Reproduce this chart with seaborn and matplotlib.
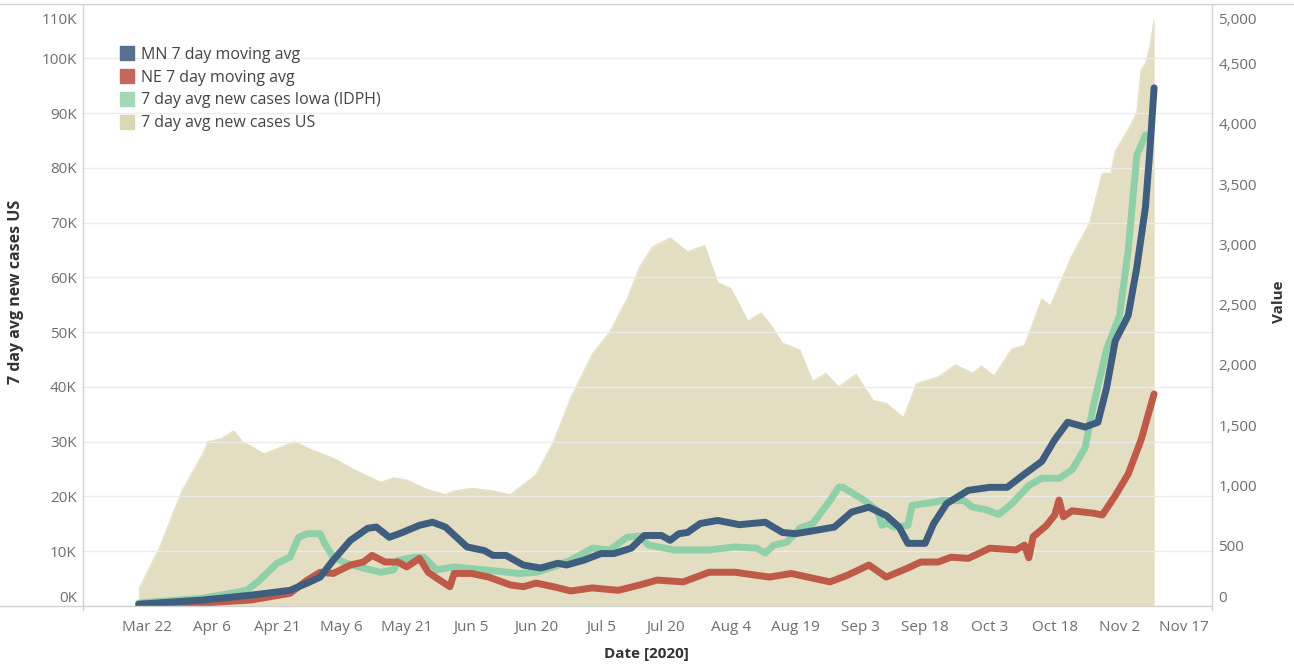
import numpy as np
import pandas as pd
import matplotlib
matplotlib.use("Agg")
import matplotlib.pyplot as plt
import matplotlib.dates as mdates
import matplotlib.transforms as mtransforms
from matplotlib.lines import Line2D
from matplotlib.ticker import FuncFormatter
import seaborn as sns

# ---------------- data ----------------
us_dates = ["2020-03-20", "2020-03-25", "2020-03-30", "2020-04-04", "2020-04-05", "2020-04-08",
            "2020-04-11", "2020-04-13", "2020-04-18", "2020-04-22", "2020-04-25", "2020-04-29",
            "2020-05-04", "2020-05-09", "2020-05-15", "2020-05-18", "2020-05-21", "2020-05-26",
            "2020-05-30", "2020-06-01", "2020-06-05", "2020-06-10", "2020-06-14", "2020-06-20",
            "2020-06-24", "2020-06-28", "2020-07-03", "2020-07-07", "2020-07-11", "2020-07-14",
            "2020-07-17", "2020-07-21", "2020-07-25", "2020-07-29", "2020-08-01", "2020-08-04",
            "2020-08-08", "2020-08-11", "2020-08-13", "2020-08-16", "2020-08-20", "2020-08-23",
            "2020-08-26", "2020-08-29", "2020-09-02", "2020-09-06", "2020-09-09", "2020-09-13",
            "2020-09-16", "2020-09-21", "2020-09-25", "2020-09-29", "2020-10-01", "2020-10-04",
            "2020-10-08", "2020-10-11", "2020-10-15", "2020-10-17", "2020-10-22", "2020-10-26",
            "2020-10-29", "2020-10-31", "2020-11-01", "2020-11-04", "2020-11-06", "2020-11-07",
            "2020-11-08", "2020-11-09", "2020-11-10"]
us_cases_k = [3, 11, 21, 28, 30, 30.5,
              32, 30, 27.8, 29, 30, 28.5,
              27, 24.8, 22.6, 23.4, 23, 21.2,
              20.3, 21, 21.5, 21, 20.3, 24,
              30, 38, 46, 50, 56, 62,
              65.6, 67.2, 64.7, 65.8, 59, 58,
              52, 53.5, 51.6, 48, 46.7, 41,
              42.5, 40, 42.3, 37.5, 37, 34.4,
              40.6, 41.8, 44, 42.5, 43.8, 42,
              46.9, 47.6, 56, 54.8, 64, 69.8,
              79, 79, 83, 87, 90, 98,
              99, 102, 107]

mn_dates = ["2020-03-20", "2020-04-04", "2020-04-15", "2020-04-24", "2020-04-28", "2020-05-01",
            "2020-05-04", "2020-05-08", "2020-05-12", "2020-05-14", "2020-05-17", "2020-05-20",
            "2020-05-24", "2020-05-27", "2020-05-30", "2020-06-04", "2020-06-08", "2020-06-10",
            "2020-06-13", "2020-06-17", "2020-06-21", "2020-06-25", "2020-06-27", "2020-07-01",
            "2020-07-05", "2020-07-08", "2020-07-12", "2020-07-15", "2020-07-19", "2020-07-21",
            "2020-07-23", "2020-07-25", "2020-07-28", "2020-08-01", "2020-08-06", "2020-08-12",
            "2020-08-16", "2020-08-19", "2020-08-24", "2020-08-28", "2020-09-01", "2020-09-05",
            "2020-09-09", "2020-09-12", "2020-09-14", "2020-09-18", "2020-09-20", "2020-09-23",
            "2020-09-28", "2020-10-03", "2020-10-07", "2020-10-11", "2020-10-15", "2020-10-18",
            "2020-10-21", "2020-10-25", "2020-10-28", "2020-10-30", "2020-11-01", "2020-11-04",
            "2020-11-06", "2020-11-08", "2020-11-09", "2020-11-10"]
mn_values = [15, 50, 90, 130, 190, 240,
             380, 545, 645, 655, 570, 610,
             670, 695, 655, 490, 460, 420,
             420, 340, 315, 355, 340, 380,
             435, 435, 480, 585, 585, 545,
             600, 610, 685, 710, 675, 695,
             610, 600, 630, 655, 780, 820,
             750, 655, 520, 520, 685, 850,
             960, 985, 985, 1095, 1200, 1380,
             1525, 1485, 1525, 1810, 2200, 2410,
             2810, 3310, 3770, 4300]

ne_dates = ["2020-03-20", "2020-04-04", "2020-04-15", "2020-04-24", "2020-04-28", "2020-05-01",
            "2020-05-04", "2020-05-08", "2020-05-11", "2020-05-13", "2020-05-16", "2020-05-19",
            "2020-05-21", "2020-05-24", "2020-05-26", "2020-05-28", "2020-05-31", "2020-06-01",
            "2020-06-05", "2020-06-09", "2020-06-14", "2020-06-17", "2020-06-20", "2020-06-24",
            "2020-06-28", "2020-07-03", "2020-07-09", "2020-07-14", "2020-07-18", "2020-07-24",
            "2020-07-30", "2020-08-05", "2020-08-13", "2020-08-18", "2020-08-27", "2020-08-31",
            "2020-09-05", "2020-09-09", "2020-09-14", "2020-09-17", "2020-09-21", "2020-09-24",
            "2020-09-28", "2020-10-03", "2020-10-09", "2020-10-11", "2020-10-12", "2020-10-13",
            "2020-10-16", "2020-10-18", "2020-10-19", "2020-10-20", "2020-10-22", "2020-10-27",
            "2020-10-29", "2020-11-01", "2020-11-04", "2020-11-07", "2020-11-10"]
ne_values = [5, 25, 50, 105, 215, 280,
             270, 340, 365, 420, 365, 365,
             325, 395, 280, 230, 160, 270,
             270, 240, 175, 160, 190, 160,
             125, 150, 130, 175, 215, 200,
             280, 280, 240, 270, 200, 255,
             340, 240, 315, 365, 365, 405,
             395, 480, 465, 505, 400, 575,
             665, 755, 880, 740, 790, 770,
             755, 915, 1095, 1380, 1760]

iowa_dates = ["2020-03-20", "2020-04-04", "2020-04-14", "2020-04-17", "2020-04-21", "2020-04-24",
              "2020-04-26", "2020-04-28", "2020-05-01", "2020-05-02", "2020-05-04", "2020-05-07",
              "2020-05-11", "2020-05-15", "2020-05-18", "2020-05-19", "2020-05-23", "2020-05-25",
              "2020-05-28", "2020-06-01", "2020-06-08", "2020-06-16", "2020-06-20", "2020-06-24",
              "2020-06-28", "2020-07-03", "2020-07-07", "2020-07-11", "2020-07-14", "2020-07-16",
              "2020-07-22", "2020-07-30", "2020-08-05", "2020-08-10", "2020-08-12", "2020-08-14",
              "2020-08-17", "2020-08-20", "2020-08-23", "2020-08-27", "2020-08-29", "2020-08-30",
              "2020-09-04", "2020-09-07", "2020-09-08", "2020-09-09", "2020-09-11", "2020-09-14",
              "2020-09-15", "2020-09-18", "2020-09-22", "2020-09-27", "2020-09-29", "2020-10-02",
              "2020-10-05", "2020-10-08", "2020-10-12", "2020-10-15", "2020-10-19", "2020-10-22",
              "2020-10-25", "2020-10-27", "2020-10-30", "2020-11-02", "2020-11-04", "2020-11-06",
              "2020-11-08", "2020-11-09"]
iowa_values = [25, 65, 130, 215, 355, 405,
               570, 600, 600, 520, 405, 355,
               315, 280, 300, 380, 405, 405,
               300, 325, 300, 270, 280, 325,
               380, 480, 465, 570, 580, 505,
               465, 465, 490, 480, 440, 505,
               530, 645, 685, 875, 985, 985,
               875, 790, 670, 685, 655, 670,
               835, 850, 875, 875, 820, 800,
               760, 845, 1000, 1060, 1060, 1130,
               1310, 1670, 2130, 2410, 2950, 3740,
               3910, 3890]

legend_labels = ["MN 7 day moving avg", "NE 7 day moving avg",
                 "7 day avg new cases Iowa (IDPH)", "7 day avg new cases US"]
x_tick_dates = ["2020-03-22", "2020-04-06", "2020-04-21", "2020-05-06", "2020-05-21", "2020-06-05",
                "2020-06-20", "2020-07-05", "2020-07-20", "2020-08-04", "2020-08-19", "2020-09-03",
                "2020-09-18", "2020-10-03", "2020-10-18", "2020-11-02", "2020-11-17"]
left_ticks_k = [0, 10, 20, 30, 40, 50, 60, 70, 80, 90, 100, 110]
right_ticks = [0, 500, 1000, 1500, 2000, 2500, 3000, 3500, 4000, 4500, 5000]

# ---------------- style ----------------
C_MN, C_NE, C_IA, C_US = "#3f5e7f", "#bf5a49", "#8fd0a8", "#e3ddc2"
LEG_COLORS = ["#58708b", "#c4685a", "#a6d8b7", "#ddd6b2"]
TICK_COLOR = "#6e6e6e"
TITLE_COLOR = "#333333"
AXIS_LINE = "#d2d2d2"

sns.set_theme(style="white")
plt.rcParams["font.family"] = ["Open Sans", "DejaVu Sans"]

W, H = 1294, 669
fig = plt.figure(figsize=(W / 100, H / 100), dpi=100)
L, R, T, B = 83, 1212, 3.5, 606
ax = fig.add_axes([L / W, 1 - B / H, (R - L) / W, (B - T) / H])
ax2 = ax.twinx()

# US area (left axis)
us = pd.DataFrame({"date": pd.to_datetime(us_dates), "cases": np.array(us_cases_k) * 1000})
ax.fill_between(us["date"], 0, us["cases"], color=C_US, lw=0, zorder=1)
sns.lineplot(data=us, x="date", y="cases", ax=ax, color=C_US, lw=0.8, zorder=1.1)

# state lines (right axis)
for dates, vals, col in [(iowa_dates, iowa_values, C_IA),
                         (ne_dates, ne_values, C_NE),
                         (mn_dates, mn_values, C_MN)]:
    df = pd.DataFrame({"date": pd.to_datetime(dates), "value": vals})
    sns.lineplot(data=df, x="date", y="value", ax=ax2, color=col, lw=5.0,
                 solid_capstyle="round", solid_joinstyle="round")

# axes limits
mar22 = pd.Timestamp("2020-03-22")
ax.set_xlim(mar22 - pd.Timedelta(days=14.9), mar22 + pd.Timedelta(days=246.4))
ax.set_ylim(0, 110000)
ax2.set_ylim(0, 5000)

# ticks
ax.set_xticks(pd.to_datetime(x_tick_dates))
ax.xaxis.set_major_formatter(FuncFormatter(
    lambda v, p: mdates.num2date(v).strftime("%b ") + str(mdates.num2date(v).day)))
ax.set_yticks([k * 1000 for k in left_ticks_k])
ax.set_yticklabels([f"{k}K" for k in left_ticks_k])
ax2.set_yticks(right_ticks)
ax2.set_yticklabels([f"{v:,}" for v in right_ticks])

FS = 11
ax.tick_params(axis="x", length=0, pad=10, labelsize=FS, colors=TICK_COLOR)
ax.tick_params(axis="y", length=0, pad=4.5, labelsize=FS, colors=TICK_COLOR)
ax2.tick_params(axis="y", length=0, pad=4.5, labelsize=FS, colors=TICK_COLOR)

# grid
ax.grid(False)
ax2.grid(False)
ax.yaxis.grid(True, color="#ebebeb", lw=1)
ax.set_axisbelow(False)

for a in (ax, ax2):
    for s in a.spines.values():
        s.set_visible(False)
ax.set_xlabel("")
ax.set_ylabel("")
ax2.set_xlabel("")
ax2.set_ylabel("")

# frame lines like the reference
ft = fig.transFigure
fig.add_artist(Line2D([0, 1], [1 - T / H] * 2, transform=ft, color=AXIS_LINE, lw=1))
fig.add_artist(Line2D([0, R / W], [1 - B / H] * 2, transform=ft, color=AXIS_LINE, lw=1))
fig.add_artist(Line2D([L / W] * 2, [1 - T / H, 1 - 610 / H], transform=ft, color=AXIS_LINE, lw=1))
fig.add_artist(Line2D([R / W] * 2, [1 - T / H, 1 - 610 / H], transform=ft, color=AXIS_LINE, lw=1))

# axis titles
fig.text(16 / W, 1 - 292 / H, "7 day avg new cases US", rotation=90, ha="center", va="center",
         fontsize=11.5, fontweight="bold", color=TITLE_COLOR)
fig.text(1279 / W, 1 - 302 / H, "Value", rotation=90, ha="center", va="center",
         fontsize=11, fontweight="bold", color=TITLE_COLOR)
fig.text(646 / W, 1 - 654 / H, "Date [2020]", ha="center", va="center",
         fontsize=11, fontweight="bold", color=TITLE_COLOR)

# legend
handles = [Line2D([], [], ls="", marker="s", markersize=10, markerfacecolor=c,
                  markeredgecolor=c) for c in LEG_COLORS]
leg = ax2.legend(handles, legend_labels, loc="upper left",
                 bbox_to_anchor=(120 / W, 1 - 47 / H), bbox_transform=ft,
                 frameon=False, handlelength=0.9, handletextpad=0.4, labelspacing=0.42,
                 fontsize=11.5, borderpad=0, borderaxespad=0)
for t in leg.get_texts():
    t.set_color("#444444")

# Tableau-style nudging of the end labels inward
fig.canvas.draw()
for a in (ax, ax2):
    ticks = a.yaxis.get_major_ticks()
    lab0 = ticks[0].label2 if a is ax2 else ticks[0].label1
    labn = ticks[-1].label2 if a is ax2 else ticks[-1].label1
    lab0.set_transform(lab0.get_transform() + mtransforms.ScaledTranslation(0, 9 / 100, fig.dpi_scale_trans))
    labn.set_transform(labn.get_transform() + mtransforms.ScaledTranslation(0, -14.5 / 100, fig.dpi_scale_trans))

fig.savefig("out.png", dpi=100)
